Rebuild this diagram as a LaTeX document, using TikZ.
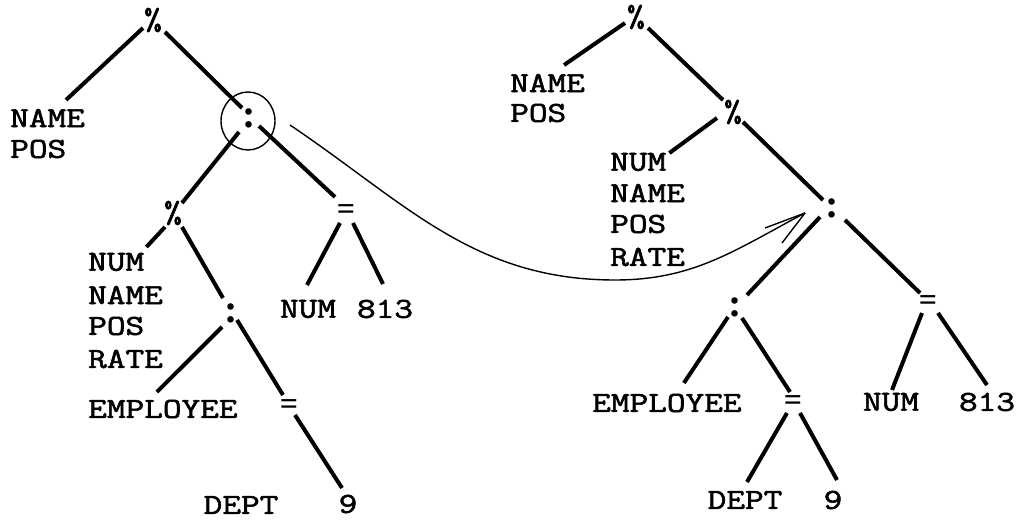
\documentclass[tikz,border=0pt]{standalone}
\usepackage{fontspec}
\usetikzlibrary{calc}
% typewriter face, widened to a 12-pitch look
\newfontfamily\tw{Latin Modern Mono}[FakeStretch=1.25,FakeBold=2]
\newfontfamily\pct{Latin Modern Mono}[FakeStretch=1.1,FakeBold=2.5]
\newfontfamily\opsym{Liberation Serif}
\begin{document}
\begin{tikzpicture}[x=1pt,y=-1pt,
  lbl/.style={inner sep=0pt, anchor=west, font=\tw\fontsize{29}{32}\selectfont},
  ctr/.style={inner sep=0pt, font=\tw\fontsize{29}{32}\selectfont},
  op/.style={inner sep=0pt, font=\pct\fontsize{31}{32}\selectfont},
  cl/.style={inner sep=0pt, font=\opsym\bfseries\fontsize{40}{40}\selectfont},
  eq/.style={inner sep=0pt, font=\opsym\bfseries\fontsize{32}{32}\selectfont},
  edge/.style={line width=4pt},
  pen/.style={line width=1.4pt}]
\useasboundingbox (0,0) rectangle (1019,521);
\fill[white] (0,0) rectangle (1019,521);

% ---------- left tree ----------
\node[op]  (p1) at (153,20) {\%};
\node[lbl] (nameL) at (10,118) {NAME};
\node[lbl] (posL)  at (10,149) {POS};
\node[cl]  (c1) at (249,118) {:};
\node[op]  (p2) at (173,213) {\%};
\node[eq]  (e1) at (346,212) {=};
\node[lbl] (numL2)  at (88,262) {NUM};
\node[lbl] (nameL2) at (88,295) {NAME};
\node[lbl] (posL2)  at (88,326) {POS};
\node[lbl] (rateL2) at (88,359) {RATE};
\node[cl]  (c2) at (231,313) {:};
\node[eq]  (e2) at (289,407) {=};
\node[lbl] (empL) at (88,409) {EMPLOYEE};
\node[ctr] (deptL) at (241,505) {DEPT};
\node[ctr] (nineL) at (348,504) {9};
\node[ctr] (numL)  at (308,309) {NUM};
\node[ctr] (n813L) at (385,309) {813};

\draw[edge] ($(p1)+(-10,8)$)  -- ($(nameL.center)+(18.5,-18)$);
\draw[edge] ($(p1)+(12,12)$)  -- ($(c1)+(-7,-10)$);
\draw[edge] ($(c1)+(-10,14)$) -- ($(p2)+(9,-10)$);
\draw[edge] ($(c1)+(10,8)$)   -- ($(e1)+(-11,-15)$);
\draw[edge] ($(p2)+(-8,14)$)  -- ($(numL2.east)+(2,-15)$);
\draw[edge] ($(p2)+(9,14)$)   -- ($(c2)+(-8,-15)$);
\draw[edge] ($(c2)+(-9,14)$)  -- ($(empL.center)+(-6,-17)$);
\draw[edge] ($(c2)+(6,7)$)    -- ($(e2)+(-6,-12)$);
\draw[edge] ($(e2)+(6,8)$)    -- ($(nineL)+(-6,-16)$);
\draw[edge] ($(e1)+(-6,11)$)  -- ($(numL)+(-1,-24)$);
\draw[edge] ($(e1)+(7,11)$)   -- ($(n813L)+(-2,-25)$);

% hand-drawn ring around the moved operator
\draw[pen] ($(c1)+(-1,3)$) ellipse [x radius=27pt, y radius=29pt];

% ---------- right tree ----------
\node[op]  (pA) at (636,17) {\%};
\node[lbl] (nameR) at (510,83) {NAME};
\node[lbl] (posR)  at (510,113) {POS};
\node[op]  (pB) at (733,112) {\%};
\node[lbl] (numR2)  at (610,162) {NUM};
\node[lbl] (nameR2) at (610,193) {NAME};
\node[lbl] (posR2)  at (610,224) {POS};
\node[lbl] (rateR2) at (610,257) {RATE};
\node[cl]  (cA) at (832,208) {:};
\node[cl]  (cB) at (735,307) {:};
\node[eq]  (eA) at (928,303) {=};
\node[lbl] (empR) at (592,403) {EMPLOYEE};
\node[eq]  (eB) at (793,403) {=};
\node[ctr] (deptR) at (745,500) {DEPT};
\node[ctr] (nineR) at (833,500) {9};
\node[ctr] (numR)  at (891,402) {NUM};
\node[ctr] (n813R) at (987,402) {813};

\draw[edge] ($(pA)+(-11,6)$)  -- ($(nameR.center)+(16.5,-18)$);
\draw[edge] ($(pA)+(12,11)$)  -- ($(pB)+(-10,-12)$);
\draw[edge] ($(pB)+(-16,6)$)  -- ($(numR2.east)+(3,-9)$);
\draw[edge] ($(pB)+(10,10)$)  -- ($(cA)+(-9,-8)$);
\draw[edge] ($(cA)+(-12,9)$)  -- ($(cB)+(12,-12)$);
\draw[edge] ($(cA)+(13,12)$)  -- ($(eA)+(-8,-10)$);
\draw[edge] ($(cB)+(-7,10)$)  -- ($(empR.center)+(17,-20)$);
\draw[edge] ($(cB)+(7,11)$)   -- ($(eB)+(-3,-11)$);
\draw[edge] ($(eB)+(-6,10)$)  -- ($(deptR)+(2,-18)$);
\draw[edge] ($(eB)+(7,10)$)   -- ($(nineR)+(4,-20)$);
\draw[edge] ($(eA)+(-6,10)$)  -- ($(numR)+(1,-12)$);
\draw[edge] ($(eA)+(10,10)$)  -- ($(n813R)+(0,-17)$);

% ---------- hand-drawn arrow from the ring to the new position ----------
\coordinate (cs) at ($(c1)+(41,7)$);
\coordinate (ce) at ($(cA)+(-27,5)$);
\coordinate (cm) at (615,280);
\draw[pen] (cs) .. controls (407,204) and (474,280) .. (cm)
                .. controls (694,280) and (735,250) .. (ce);
\draw[pen] (ce) -- ++(-40,15);
\draw[pen] (ce) -- ++(-23,30);
\end{tikzpicture}
\end{document}
